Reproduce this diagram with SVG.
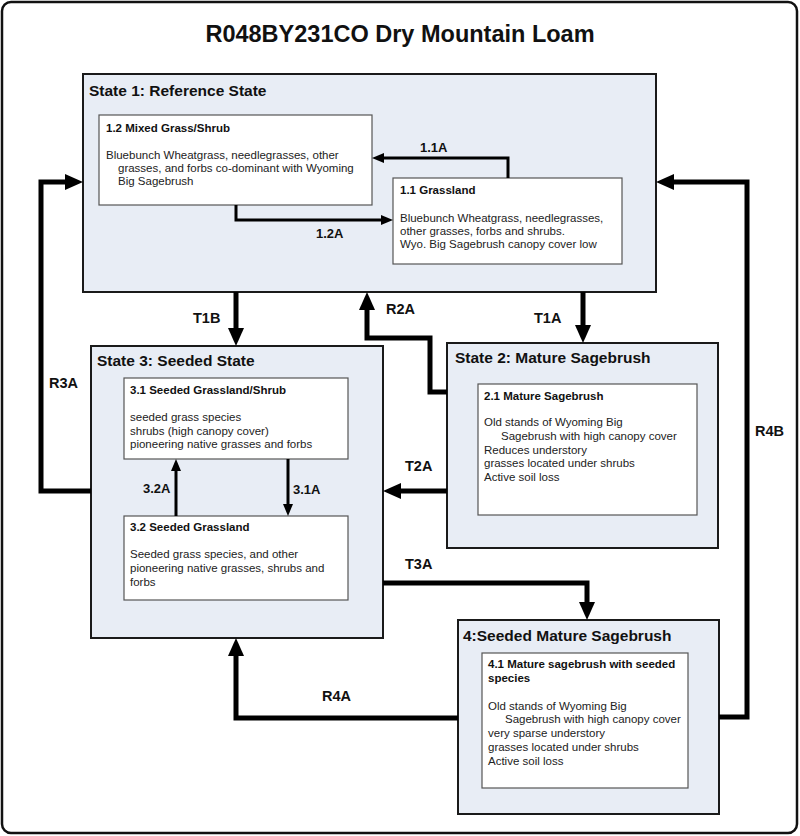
<svg xmlns="http://www.w3.org/2000/svg" width="800" height="836" viewBox="0 0 800 836">
<style>
.bg{fill:#ffffff}
.frame{fill:#ffffff;stroke:#111;stroke-width:2.5}
.state{fill:#e8edf5;stroke:#1a1a1a;stroke-width:2}
.phase{fill:#ffffff;stroke:#555;stroke-width:1.2}
.title{font-family:"Liberation Sans",Arial,sans-serif;font-weight:bold;font-size:23.5px;fill:#111}
.st{font-family:"Liberation Sans",Arial,sans-serif;font-weight:bold;font-size:15.5px;fill:#111}
.ph{font-family:"Liberation Sans",Arial,sans-serif;font-weight:bold;font-size:11.5px;fill:#111}
.tx{font-family:"Liberation Sans",Arial,sans-serif;font-size:11.5px;fill:#222}
.lb{font-family:"Liberation Sans",Arial,sans-serif;font-weight:bold;font-size:14.5px;fill:#111}
.lbs{font-family:"Liberation Sans",Arial,sans-serif;font-weight:bold;font-size:13px;fill:#111}
.thick{fill:none;stroke:#000;stroke-width:5}
.thin{fill:none;stroke:#000;stroke-width:3}
</style>
<defs>
<marker id="big" markerUnits="userSpaceOnUse" markerWidth="18" markerHeight="16" refX="0" refY="8" orient="auto" overflow="visible">
<path d="M0,0 L18,8 L0,16 z" fill="#000"/>
</marker>
<marker id="small" markerUnits="userSpaceOnUse" markerWidth="12" markerHeight="10" refX="0" refY="5" orient="auto" overflow="visible">
<path d="M0,0 L12,5 L0,10 z" fill="#000"/>
</marker>
</defs>
<rect class="bg" x="0" y="0" width="800" height="836"/>
<rect class="frame" x="2" y="2" width="795" height="831" rx="9"/>
<text class="title" x="400" y="42" text-anchor="middle">R048BY231CO Dry Mountain Loam</text>

<g id="state1">
<rect class="state" x="83" y="74" width="573" height="218"/>
<text class="st" x="89" y="96">State 1: Reference State</text>
</g>
<g id="phase12">
<rect class="phase" x="99" y="115" width="273" height="90"/>
<text class="ph" x="106" y="132">1.2 Mixed Grass/Shrub</text>
<text class="tx" x="106" y="159">Bluebunch Wheatgrass, needlegrasses, other</text>
<text class="tx" x="118" y="172">grasses, and forbs co-dominant with Wyoming</text>
<text class="tx" x="118" y="185">Big Sagebrush</text>
</g>
<g id="phase11">
<rect class="phase" x="393" y="178" width="229" height="86"/>
<text class="ph" x="400" y="194">1.1 Grassland</text>
<text class="tx" x="400" y="222">Bluebunch Wheatgrass, needlegrasses,</text>
<text class="tx" x="400" y="235">other grasses, forbs and shrubs.</text>
<text class="tx" x="400" y="248">Wyo. Big Sagebrush canopy cover low</text>
</g>

<g id="state3">
<rect class="state" x="91" y="346" width="292" height="292"/>
<text class="st" x="97" y="366">State 3: Seeded State</text>
</g>
<g id="phase31">
<rect class="phase" x="124" y="378" width="224" height="81"/>
<text class="ph" x="130" y="394">3.1 Seeded Grassland/Shrub</text>
<text class="tx" x="130" y="421">seeded grass species</text>
<text class="tx" x="130" y="435">shrubs (high canopy cover)</text>
<text class="tx" x="130" y="448">pioneering native grasses and forbs</text>
</g>
<g id="phase32">
<rect class="phase" x="124" y="516" width="224" height="84"/>
<text class="ph" x="130" y="531">3.2 Seeded Grassland</text>
<text class="tx" x="130" y="558">Seeded grass species, and other</text>
<text class="tx" x="130" y="572">pioneering native grasses, shrubs and</text>
<text class="tx" x="130" y="586">forbs</text>
</g>

<g id="state2">
<rect class="state" x="447" y="343" width="271" height="205"/>
<text class="st" x="455" y="363">State 2: Mature Sagebrush</text>
</g>
<g id="phase21">
<rect class="phase" x="478" y="384" width="219" height="131"/>
<text class="ph" x="484" y="400">2.1 Mature Sagebrush</text>
<text class="tx" x="484" y="426">Old stands of Wyoming Big</text>
<text class="tx" x="501" y="440">Sagebrush with high canopy cover</text>
<text class="tx" x="484" y="454">Reduces understory</text>
<text class="tx" x="484" y="467">grasses located under shrubs</text>
<text class="tx" x="484" y="481">Active soil loss</text>
</g>

<g id="state4">
<rect class="state" x="458" y="620" width="261" height="194"/>
<text class="st" x="463" y="641">4:Seeded Mature Sagebrush</text>
</g>
<g id="phase41">
<rect class="phase" x="482" y="653" width="206" height="135"/>
<text class="ph" x="488" y="668">4.1 Mature sagebrush with seeded</text>
<text class="ph" x="488" y="682">species</text>
<text class="tx" x="488" y="710">Old stands of Wyoming Big</text>
<text class="tx" x="505" y="723">Sagebrush with high canopy cover</text>
<text class="tx" x="488" y="737">very sparse understory</text>
<text class="tx" x="488" y="751">grasses located under shrubs</text>
<text class="tx" x="488" y="765">Active soil loss</text>
</g>

<g id="connectors">
<path class="thin" d="M508,178 V158 H384" marker-end="url(#small)"/>
<path class="thin" d="M236,205 V220 H381" marker-end="url(#small)"/>
<path class="thin" d="M176,516 V471" marker-end="url(#small)"/>
<path class="thin" d="M288,459 V504" marker-end="url(#small)"/>
<path class="thick" d="M236,292 V328" marker-end="url(#big)"/>
<path class="thick" d="M447,392 H430 V338 H367 V310" marker-end="url(#big)"/>
<path class="thick" d="M583,292 V325" marker-end="url(#big)"/>
<path class="thick" d="M447,491 H401" marker-end="url(#big)"/>
<path class="thick" d="M383,583 H587 V602" marker-end="url(#big)"/>
<path class="thick" d="M91,491 H41 V182 H65" marker-end="url(#big)"/>
<path class="thick" d="M458,718 H236 V656" marker-end="url(#big)"/>
<path class="thick" d="M719,717 H747 V182 H674" marker-end="url(#big)"/>
<text class="lbs" x="420" y="152">1.1A</text>
<text class="lbs" x="316" y="238">1.2A</text>
<text class="lbs" x="143" y="493">3.2A</text>
<text class="lbs" x="293" y="494">3.1A</text>
<text class="lb" x="193" y="323">T1B</text>
<text class="lb" x="386" y="314">R2A</text>
<text class="lb" x="534" y="323">T1A</text>
<text class="lb" x="405" y="471">T2A</text>
<text class="lb" x="405" y="569">T3A</text>
<text class="lb" x="49" y="388">R3A</text>
<text class="lb" x="322" y="701">R4A</text>
<text class="lb" x="755" y="436">R4B</text>
</g>
</svg>
